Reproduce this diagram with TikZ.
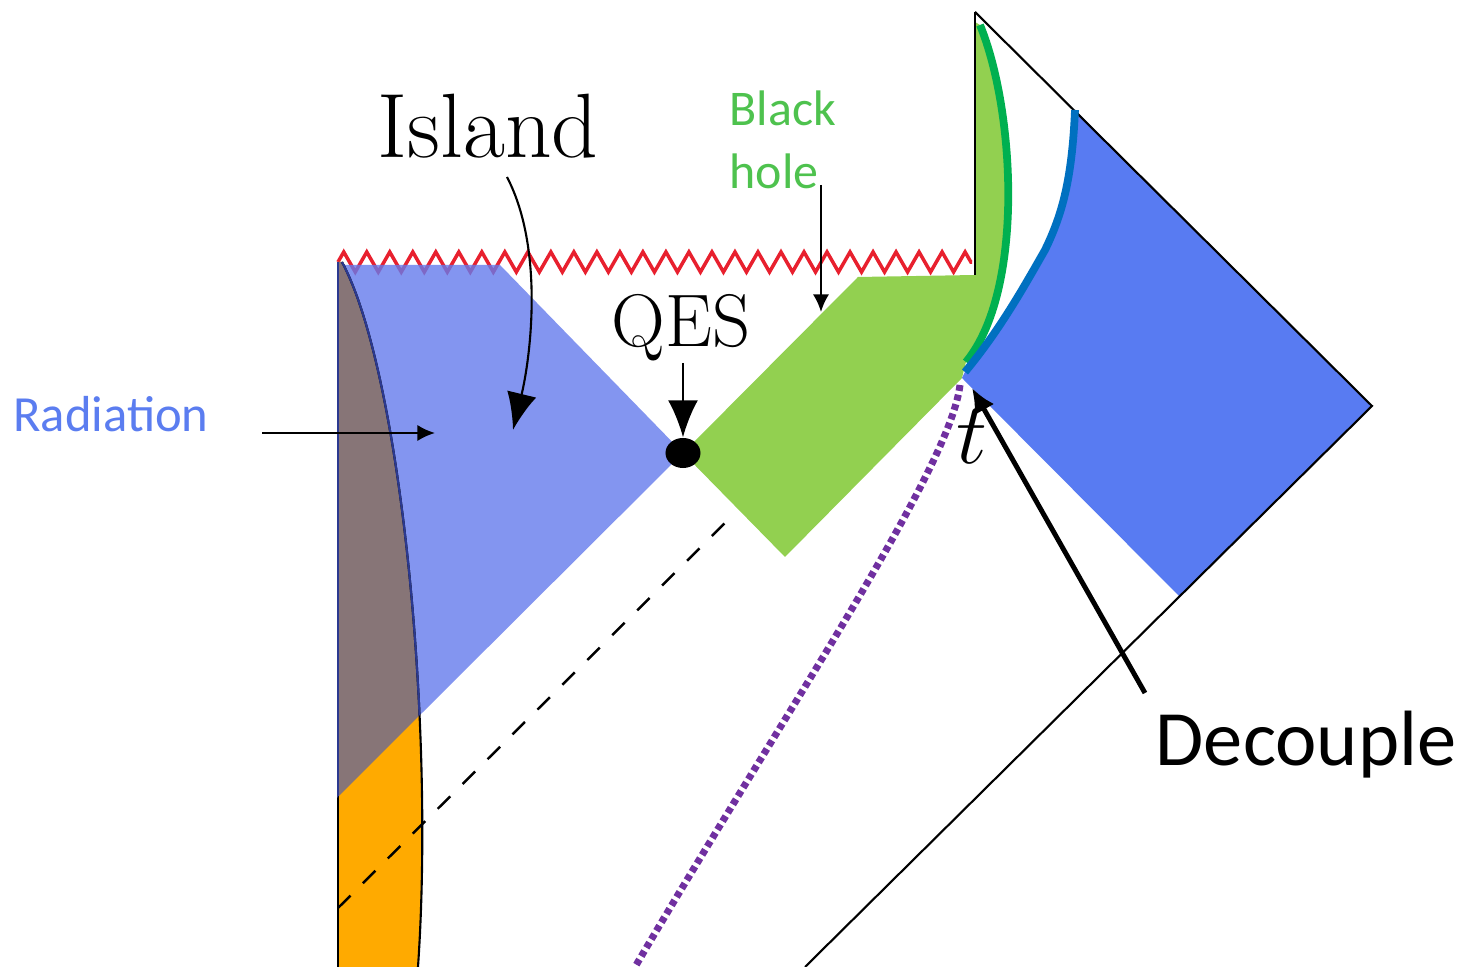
\documentclass[tikz,border=0pt]{standalone}
\usepackage{fontspec}
\newfontfamily\calibri{Carlito}
\usetikzlibrary{arrows.meta, shapes.geometric, decorations.pathmorphing}
\definecolor{cIsland}{HTML}{647AEC}
\definecolor{cExterior}{HTML}{587BF2}
\definecolor{cBHfill}{HTML}{92D050}
\definecolor{cGreenLine}{HTML}{00B050}
\definecolor{cBlueLine}{HTML}{0070C0}
\definecolor{cBrown}{HTML}{877577}
\definecolor{cOrange}{HTML}{FFAA00}
\definecolor{cPurple}{HTML}{7030A0}
\definecolor{cSing}{HTML}{E8202E}
\definecolor{cNavy}{HTML}{2B3990}
\definecolor{cRadText}{HTML}{5B7DF0}
\definecolor{cBHText}{HTML}{4EC24E}
\tikzset{
  bdry/.style={line width=0.6pt, color=#1},
  bdry/.default=black,
  labelarrow/.style={-{Latex[length=5pt, width=4.6pt]}, line width=0.65pt},
  bigtip/.style={-{Latex[length=10.5pt, width=8.5pt]}, line width=0.6pt},
  cmlabel/.style={font=\fontsize{#1}{#1}\selectfont, inner sep=0pt},
  calibrilabel/.style={font=\calibri\fontsize{#1}{17.9pt}\selectfont, inner sep=0pt},
}

\begin{document}
\begin{tikzpicture}[x=0.01cm, y=-0.01cm]
\useasboundingbox (0,0) rectangle (1465,967);

% ---- key points ----
\coordinate (qespt) at (683,453);
\coordinate (tpt) at (962,378);

% ---- singularity ----
\draw[cSing, line width=1pt, decorate,
      decoration={zigzag, segment length=0.23cm, amplitude=0.1cm}]
  (338,262) -- (972,262);

% ---- island wedge ----
\fill[cIsland, fill opacity=0.8] (338,265) -- (500,265) -- (qespt)
  -- (421,714) -- (338,797) -- cycle;

% ---- brown / orange strip ----
\fill[cOrange] (338,262) -- (342,262) .. controls (400,370) and (435,720)
  .. (418,967) -- (338,967) -- cycle;
\begin{scope}
  \clip (300,250) -- (300,835) -- (460,675) -- (460,250) -- cycle;
  \fill[cBrown] (338,262) -- (342,262) .. controls (400,370) and (435,720)
    .. (418,967) -- (338,967) -- cycle;
\end{scope}
\draw[bdry] (338,262) -- (338,967);
\draw[bdry] (342,262) .. controls (400,370) and (435,720) .. (418,967);
\begin{scope}
  \clip (300,250) -- (300,835) -- (460,675) -- (460,250) -- cycle;
  \draw[bdry=cNavy] (338,262) -- (338,967);
  \draw[bdry=cNavy] (342,262) .. controls (400,370) and (435,720) .. (418,967);
\end{scope}

% light ray from the QES
\draw[line width=0.7pt, dash pattern=on 5pt off 5pt] (338,908) -- (733,515);

% ---- black hole region ----
\fill[cBHfill] (qespt) -- (858,277) -- (975,275) -- (975,22) -- (980,25)
  .. controls (1015,110) and (1025,290) .. (966,362) -- (tpt) -- (785,557)
  -- cycle;

% ---- exterior (bath) region ----
\fill[cExterior] (tpt) -- (965,372) .. controls (1000,330) and (1025,285)
  .. (1045,250) .. controls (1062,215) and (1072,180) .. (1075,110)
  -- (1372,406) -- (1180,597) -- cycle;

% ---- Penrose boundaries ----
\draw[bdry] (975,12) -- (975,275);
\draw[bdry] (975,12) -- (1372,406) -- (805,967);

% ---- curves ----
\draw[cGreenLine, line width=2.2pt] (980,25) .. controls (1015,110)
  and (1025,290) .. (966,362);
\draw[cBlueLine, line width=2.2pt] (965,372) .. controls (1000,330)
  and (1025,285) .. (1045,250) .. controls (1062,215) and (1072,180)
  .. (1075,110);
\draw[cPurple, line width=2pt, dash pattern=on 1.7pt off 1.1pt]
  (960,385) .. controls (950,470) and (780,720) .. (635,967);

% ---- QES ----
\node[fill=black, ellipse, minimum width=0.35cm, minimum height=0.3cm,
      inner sep=0pt] (qesdot) at (qespt) {};

% ---- labels ----
\node[cmlabel=26pt, anchor=base] (island) at (488,158) {Island};
\node[cmlabel=21.2pt, anchor=base] (qes) at (681,347) {QES};
\node[cmlabel=24pt, anchor=base] (tlabel) at (972,464) {$t$};
\node[calibrilabel=14.4pt, text=cRadText, anchor=base] (radiation)
  at (111,432) {Radiation};
\node[calibrilabel=14.2pt, text=cBHText, anchor=base west] (blackhole)
  at (729,126) {\begin{tabular}[t]{@{}l@{}}Black\\hole\end{tabular}};
\node[calibrilabel=22.3pt, anchor=base] (decouple) at (1306,766) {Decouple};

% ---- arrows ----
\coordinate (islandtail) at (507,177);
\coordinate (islandtip) at (513,430);
\draw[bigtip] (islandtail) .. controls (545,250) and (530,360) .. (islandtip);

\coordinate (qestail) at (683,363);
\draw[bigtip] (qestail) -- (qesdot.north);

\coordinate (radtail) at (262,433);
\coordinate (radtip) at (435,433);
\draw[labelarrow] (radtail) -- (radtip);

\coordinate (bhtail) at (821,185);
\coordinate (bhtip) at (821,312);
\draw[labelarrow] (bhtail) -- (bhtip);

\coordinate (dectail) at (1145,693);
\coordinate (dectip) at (972,388);
\draw[-{Latex[length=7pt, width=6.5pt]}, line width=1.4pt] (dectail) -- (dectip);

\end{tikzpicture}
\end{document}
